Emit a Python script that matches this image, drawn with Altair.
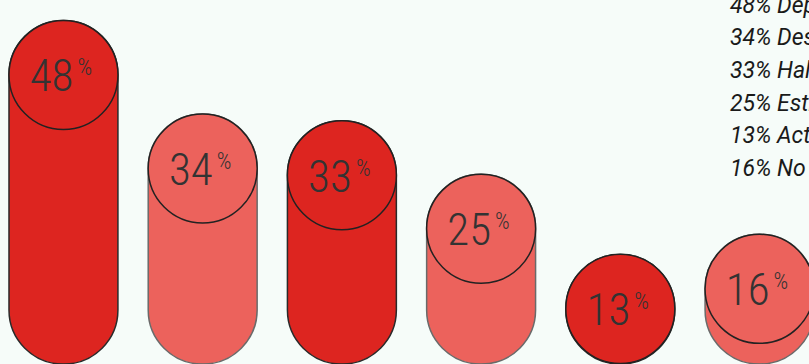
import altair as alt
import pandas as pd

# ---- data ----
names = ["Depresión", "Desesperanza", "Halagos", "Estrés", "Actividad", "No sabe"]
values = [48, 34, 33, 25, 13, 16]

labels = [f"{v}% {n}" for v, n in zip(values, names)]
df = pd.DataFrame({"label": labels, "value": values})

# ---- style ----
fills = ["#dd2520", "#ec625c", "#dd2520", "#ec625c", "#dd2520", "#ec625c"]
strokes = ["#2a2a2a", "#6a6a6a", "#2a2a2a", "#6a6a6a", "#2a2a2a", "#6a6a6a"]
Y_MIN, Y_MAX = -3.4, 51.06
R = 54.5
NUM_FONT = "'Liberation Sans Narrow', 'Roboto Condensed', Roboto"

x = alt.X("label:N", sort=labels, axis=None,
          scale=alt.Scale(range=[0, 823], paddingInner=0.2175, paddingOuter=0.0646))
y = alt.Y("value:Q", axis=None, scale=alt.Scale(domain=[Y_MIN, Y_MAX], zero=False, nice=False))
color = alt.Color("label:N", sort=labels, scale=alt.Scale(domain=labels, range=fills),
                  legend=alt.Legend(title=None, orient="none", legendX=707, legendY=-6,
                                    symbolOpacity=0, symbolSize=0, symbolStrokeWidth=0,
                                    labelOffset=0, labelFont="Roboto", labelFontStyle="italic",
                                    labelFontSize=23, labelColor="#1a1a1a", labelLimit=400,
                                    rowPadding=8.7, padding=0))
stroke = alt.Stroke("label:N", sort=labels, scale=alt.Scale(domain=labels, range=strokes), legend=None)

base = alt.Chart(df)

bars = base.mark_bar(cornerRadius=54, strokeWidth=1.5).encode(
    x=x, y=y, y2=alt.datum(Y_MIN), color=color, stroke=stroke)

tops = base.mark_circle(size=(2 * R) ** 2, yOffset=R, opacity=1,
                        stroke="#222222", strokeWidth=1.5).encode(
    x=x, y=y, color=color)

nums = base.mark_text(align="right", baseline="alphabetic", dx=10, dy=71,
                      font=NUM_FONT, fontWeight=300, fontSize=45, color="#333333").encode(
    x=x, y=y, text="value:Q")

pct = base.mark_text(align="left", baseline="alphabetic", dx=14, dy=55,
                     font=NUM_FONT, fontWeight=300, fontSize=23, color="#333333").encode(
    x=x, y=y, text=alt.value("%"))

chart = alt.layer(bars, tops, nums, pct).properties(
    width=809, height=364, padding=0,
    autosize=alt.AutoSizeParams(type="none"),
    background="#f6fcf9",
).configure_view(stroke=None)

chart.save("out.html", embed_options={"renderer": "svg", "actions": False})
